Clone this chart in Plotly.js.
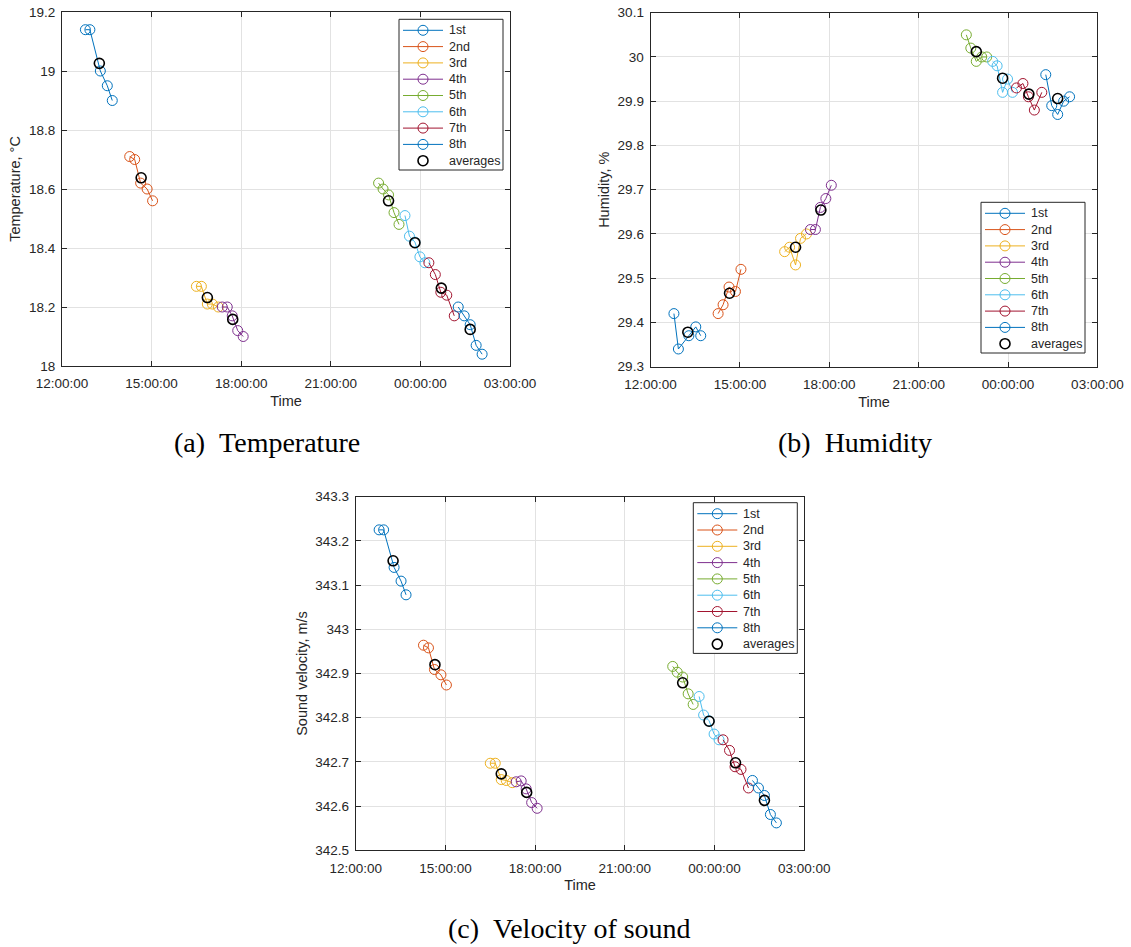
<!DOCTYPE html>
<html>
<head>
<meta charset="utf-8">
<script src="https://cdn.plot.ly/plotly-3.0.1.min.js"></script>
<style>
html, body { margin: 0; padding: 0; background: #ffffff; }
#chart { width: 1131px; height: 947px; }
</style>
</head>
<body>
<div id="chart"></div>
<script>
// ---------------- DATA ----------------
const seriesNames = ['1st', '2nd', '3rd', '4th', '5th', '6th', '7th', '8th'];
const averageName = 'averages';

// measurement times of each series (same for all three quantities)
const seriesTimes = [
  ['2019-01-01 12:47', '2019-01-01 12:56', '2019-01-01 13:17', '2019-01-01 13:31', '2019-01-01 13:41'],
  ['2019-01-01 14:16', '2019-01-01 14:26', '2019-01-01 14:38', '2019-01-01 14:51', '2019-01-01 15:02'],
  ['2019-01-01 16:30', '2019-01-01 16:40', '2019-01-01 16:52', '2019-01-01 17:02', '2019-01-01 17:14'],
  ['2019-01-01 17:22', '2019-01-01 17:32', '2019-01-01 17:42', '2019-01-01 17:53', '2019-01-01 18:04'],
  ['2019-01-01 22:36', '2019-01-01 22:45', '2019-01-01 22:56', '2019-01-01 23:07', '2019-01-01 23:17'],
  ['2019-01-01 23:29', '2019-01-01 23:38', '2019-01-01 23:49', '2019-01-01 23:59', '2019-01-02 00:09'],
  ['2019-01-02 00:17', '2019-01-02 00:30', '2019-01-02 00:41', '2019-01-02 00:53', '2019-01-02 01:08'],
  ['2019-01-02 01:16', '2019-01-02 01:28', '2019-01-02 01:40', '2019-01-02 01:52', '2019-01-02 02:04']
];
const averageTimes = ['2019-01-01 13:15', '2019-01-01 14:39', '2019-01-01 16:52', '2019-01-01 17:43',
                      '2019-01-01 22:56', '2019-01-01 23:49', '2019-01-02 00:42', '2019-01-02 01:40'];

// (a) temperature, °C
const temperature = [
  [19.14, 19.14, 19.00, 18.95, 18.90],
  [18.71, 18.70, 18.62, 18.60, 18.56],
  [18.27, 18.27, 18.21, 18.21, 18.20],
  [18.20, 18.20, 18.17, 18.12, 18.10],
  [18.62, 18.60, 18.58, 18.52, 18.48],
  [18.51, 18.44, 18.42, 18.37, 18.35],
  [18.35, 18.31, 18.25, 18.24, 18.17],
  [18.20, 18.17, 18.14, 18.07, 18.04]
];
const temperatureAverages = [19.026, 18.638, 18.232, 18.158, 18.560, 18.418, 18.264, 18.124];

// (b) humidity, %
const humidity = [
  [29.42, 29.34, 29.37, 29.39, 29.37],
  [29.42, 29.44, 29.48, 29.47, 29.52],
  [29.56, 29.57, 29.53, 29.59, 29.60],
  [29.61, 29.61, 29.66, 29.68, 29.71],
  [30.05, 30.02, 29.99, 30.00, 30.00],
  [29.99, 29.98, 29.92, 29.95, 29.92],
  [29.93, 29.94, 29.91, 29.88, 29.92],
  [29.96, 29.89, 29.87, 29.90, 29.91]
];
const humidityAverages = [29.378, 29.466, 29.570, 29.654, 30.012, 29.952, 29.916, 29.906];

// (c) sound velocity, m/s
const soundVelocity = [
  [343.225, 343.225, 343.140, 343.109, 343.078],
  [342.964, 342.958, 342.909, 342.897, 342.874],
  [342.697, 342.697, 342.660, 342.658, 342.653],
  [342.655, 342.657, 342.639, 342.608, 342.595],
  [342.916, 342.903, 342.892, 342.854, 342.830],
  [342.848, 342.806, 342.793, 342.763, 342.750],
  [342.750, 342.726, 342.689, 342.683, 342.641],
  [342.658, 342.641, 342.624, 342.581, 342.562]
];
const soundVelocityAverages = [343.155, 342.920, 342.673, 342.631, 342.879, 342.792, 342.698, 342.613];

const yTitles = ['Temperature, \u00B0C', 'Humidity, %', 'Sound velocity, m/s'];
const xTitle = 'Time';
const captions = ['(a)\u2002Temperature', '(b)\u2002Humidity', '(c)\u2002Velocity of sound'];
const timeRange = ['2019-01-01 12:00:00', '2019-01-02 03:00:00'];

// ---------------- STYLE / LAYOUT ----------------
const W = 1131, H = 947;
const seriesColors = ['#0072BD', '#D95319', '#EDB120', '#7E2F8E', '#77AC30', '#4DBEEE', '#A2142F', '#0072BD'];
const axisColor = '#262626';
const gridColor = '#e2e2e2';
const sansFont = 'Liberation Sans, Arial, Helvetica, sans-serif';
const serifFont = 'Liberation Serif, Times New Roman, serif';

const px = v => v / W;
const py = v => 1 - v / H;

const panels = [
  { xa: 'x',  ya: 'y',  values: temperature,   avg: temperatureAverages,   yRange: [18, 19.2],     dtick: 0.2,
    box: { l: 62, r: 510, t: 12, b: 366 }, legend: { l: 399, t: 19.3 }, caption: { x: 267, y: 442 } },
  { xa: 'x2', ya: 'y2', values: humidity,      avg: humidityAverages,      yRange: [29.3, 30.1],   dtick: 0.1,
    box: { l: 650.6, r: 1097.4, t: 12.7, b: 366.7 }, legend: { l: 981, t: 202.3 }, caption: { x: 855, y: 442 } },
  { xa: 'x3', ya: 'y3', values: soundVelocity, avg: soundVelocityAverages, yRange: [342.5, 343.3], dtick: 0.1,
    box: { l: 355.7, r: 804.3, t: 496.7, b: 850.3 }, legend: { l: 693.3, t: 502.7 }, caption: { x: 569, y: 928 } }
];

const traces = [];
const layout = {
  width: W, height: H,
  margin: { l: 0, r: 0, t: 0, b: 0 },
  paper_bgcolor: '#ffffff', plot_bgcolor: '#ffffff',
  showlegend: false,
  shapes: [], annotations: [],
  font: { family: sansFont, color: axisColor }
};

panels.forEach((p, pi) => {
  const xKey = pi === 0 ? 'xaxis' : 'xaxis' + (pi + 1);
  const yKey = pi === 0 ? 'yaxis' : 'yaxis' + (pi + 1);

  seriesNames.forEach((name, si) => {
    traces.push({
      type: 'scatter', mode: 'lines+markers',
      x: seriesTimes[si], y: p.values[si],
      xaxis: p.xa, yaxis: p.ya, name: name,
      line: { color: seriesColors[si], width: 1 },
      marker: { symbol: 'circle-open', size: 10, color: seriesColors[si], line: { width: 1 } },
      hoverinfo: 'skip'
    });
  });
  traces.push({
    type: 'scatter', mode: 'markers',
    x: averageTimes, y: p.avg,
    xaxis: p.xa, yaxis: p.ya, name: averageName,
    marker: { symbol: 'circle-open', size: 10, color: '#000000', line: { width: 1.6 } },
    hoverinfo: 'skip'
  });

  layout[xKey] = {
    domain: [px(p.box.l), px(p.box.r)],
    anchor: p.ya,
    type: 'date',
    range: timeRange,
    tickmode: 'linear', tick0: timeRange[0], dtick: 3 * 3600 * 1000,
    tickformat: '%H:%M:%S',
    ticks: 'inside', ticklen: 5, tickwidth: 1, tickcolor: axisColor,
    showline: true, linecolor: axisColor, linewidth: 1, mirror: 'ticks',
    showgrid: true, gridcolor: gridColor, gridwidth: 1, zeroline: false,
    tickfont: { family: sansFont, size: 13.5, color: axisColor },
    ticklabelstandoff: 5,
    title: { text: xTitle, font: { family: sansFont, size: 14.5, color: axisColor }, standoff: 5 },
    fixedrange: true
  };
  layout[yKey] = {
    domain: [py(p.box.b), py(p.box.t)],
    anchor: p.xa,
    range: p.yRange,
    tickmode: 'linear', tick0: p.yRange[0], dtick: p.dtick,
    ticks: 'inside', ticklen: 5, tickwidth: 1, tickcolor: axisColor,
    showline: true, linecolor: axisColor, linewidth: 1, mirror: 'ticks',
    showgrid: true, gridcolor: gridColor, gridwidth: 1, zeroline: false,
    tickfont: { family: sansFont, size: 13.5, color: axisColor },
    ticklabelstandoff: 3,
    title: { text: yTitles[pi], font: { family: sansFont, size: 14.5, color: axisColor }, standoff: 4 },
    fixedrange: true
  };

  // ----- legend box (MATLAB style) -----
  const L = p.legend.l, T = p.legend.t;
  const boxW = 104, boxH = 150.7, rowGap = 16.3, firstRow = 11;
  layout.shapes.push({
    type: 'rect', xref: 'paper', yref: 'paper', layer: 'above',
    x0: px(L), x1: px(L + boxW), y0: py(T), y1: py(T + boxH),
    line: { color: axisColor, width: 1 }, fillcolor: '#ffffff'
  });
  const entries = seriesNames.concat([averageName]);
  entries.forEach((name, ei) => {
    const yy = T + firstRow + ei * rowGap;
    const isAvg = ei === seriesNames.length;
    const col = isAvg ? '#000000' : seriesColors[ei];
    if (!isAvg) {
      layout.shapes.push({
        type: 'line', xref: 'paper', yref: 'paper', layer: 'above',
        x0: px(L + 4), x1: px(L + 44), y0: py(yy), y1: py(yy),
        line: { color: col, width: 1 }
      });
    }
    layout.shapes.push({
      type: 'circle', xref: 'paper', yref: 'paper', layer: 'above',
      xsizemode: 'pixel', ysizemode: 'pixel',
      xanchor: px(L + 24), yanchor: py(yy),
      x0: -5, x1: 5, y0: -5, y1: 5,
      line: { color: col, width: isAvg ? 1.6 : 1 }, fillcolor: 'rgba(0,0,0,0)'
    });
    layout.annotations.push({
      xref: 'paper', yref: 'paper', x: px(L + 47.5), y: py(yy),
      xanchor: 'left', yanchor: 'middle', showarrow: false,
      text: name, font: { family: sansFont, size: 12.5, color: axisColor }
    });
  });

  // ----- sub-figure caption -----
  layout.annotations.push({
    xref: 'paper', yref: 'paper', x: px(p.caption.x), y: py(p.caption.y),
    xanchor: 'center', yanchor: 'middle', showarrow: false,
    text: captions[pi], font: { family: serifFont, size: 28, color: '#000000' }
  });
});

Plotly.newPlot('chart', traces, layout, { staticPlot: true, displayModeBar: false });
</script>
</body>
</html>
